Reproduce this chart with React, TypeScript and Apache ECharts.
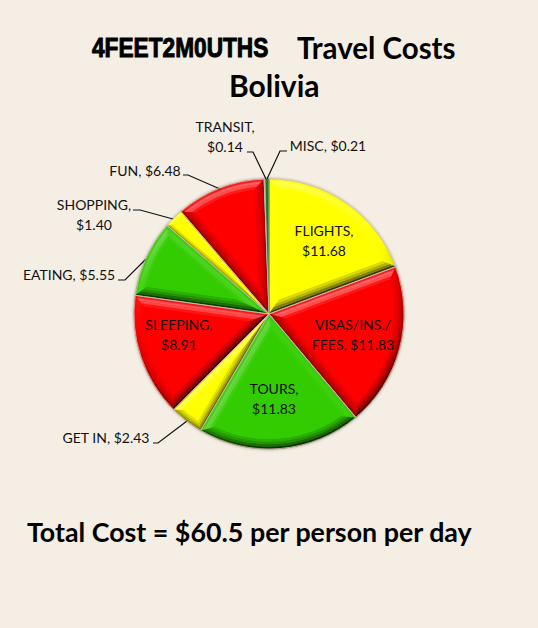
import React, { useEffect, useRef } from "react";
import * as echarts from "echarts";

const categories = ["FLIGHTS", "VISAS/INS./ FEES", "TOURS", "GET IN", "SLEEPING", "EATING", "SHOPPING", "FUN", "TRANSIT", "MISC"];
const costs = [11.68, 11.83, 11.83, 2.43, 8.91, 5.55, 1.4, 6.48, 0.14, 0.21];
const sliceColors = ["#ffff00", "#ff0000", "#33cc00", "#ffff00", "#ff0000", "#33cc00", "#ffff00", "#ff0000", "#a9a99a", "#1f7a1f"];
const labelTexts = [
  "FLIGHTS,\n$11.68",
  "VISAS/INS./\nFEES, $11.83",
  "TOURS,\n$11.83",
  "GET IN, $2.43",
  "SLEEPING,\n$8.91",
  "EATING, $5.55",
  "SHOPPING,\n$1.40",
  "FUN, $6.48",
  "TRANSIT,\n$0.14",
  "MISC, $0.21",
];
const titleMain = "Travel Costs";
const titleBrand = "4FEET2M0UTHS";
const titleSub = "Bolivia";
const footer = "Total Cost = $60.5 per person per day";

const CX = 269;
const CY = 314;
const R = 135;
const BEVEL = 10;
const SANS = "Lato, 'Open Sans', sans-serif";
const DARK_STEPS = [0.62, 0.4, 0.24, 0.12];
const LIGHT_STEPS = [0.08, 0.32, 0.26, 0.08];

const labelSpots: { x: number; y: number; line?: number[][] }[] = [
  { x: 324, y: 240 },
  { x: 353, y: 334 },
  { x: 274, y: 398 },
  { x: 106, y: 437, line: [[153, 443], [158, 443], [187, 421]] },
  { x: 179, y: 334 },
  { x: 69, y: 274, line: [[118, 280], [125, 280], [146, 259]] },
  { x: 94, y: 214, line: [[133, 210], [140, 210], [173, 219]] },
  { x: 145, y: 170, line: [[183, 175], [188, 175], [220, 189]] },
  { x: 225, y: 136, line: [[247, 152], [253, 152], [266, 179]] },
  { x: 328, y: 145, line: [[287, 151], [280, 151], [267, 179]] },
];

const total = costs.reduce((a, b) => a + b, 0);

function hex(c: string) {
  return [1, 3, 5].map((i) => parseInt(c.slice(i, i + 2), 16));
}
function shadeColor(base: string, s: number) {
  const target = s > 0 ? 255 : 0;
  const k = Math.min(1, Math.abs(s));
  const rgb = hex(base).map((v) => Math.round(v + (target - v) * k));
  return `rgb(${rgb[0]},${rgb[1]},${rgb[2]})`;
}
const LIGHT = [-0.3, -0.954];
function lit(nx: number, ny: number) {
  return nx * LIGHT[0] + ny * LIGHT[1];
}

function renderSlice(params: any) {
  const i = params.dataIndex;
  const start = (costs.slice(0, i).reduce((a, b) => a + b, 0) / total) * Math.PI * 2;
  const end = start + (costs[i] / total) * Math.PI * 2;
  const half = (end - start) / 2;
  const mid = start + half;
  const base = sliceColors[i];
  const maxInset = Math.min(BEVEL, 0.42 * R * Math.sin(half));
  const pt = (r: number, t: number) => [CX + r * Math.sin(t), CY - r * Math.cos(t)];

  const outline = (e: number) => {
    const rr = R - e;
    const da = Math.asin(Math.min(0.98, e / rr));
    const a = start + da;
    const b = end - da;
    return { apex: pt(e / Math.sin(half), mid), a, b, rr };
  };

  const children: any[] = [];
  const quad = (points: number[][], fill: string) =>
    children.push({
      type: "polygon",
      silent: true,
      shape: { points },
      style: { fill, stroke: fill, lineWidth: 0.4 },
    });

  const levels = DARK_STEPS.length;
  for (let j = 0; j < levels; j++) {
    const e0 = (maxInset * j) / levels;
    const e1 = (maxInset * (j + 1)) / levels;
    const o0 = outline(e0);
    const o1 = outline(e1);
    const tone = (s: number) => {
      const bias = s - 0.25;
      return shadeColor(base, bias > 0 ? bias * LIGHT_STEPS[j] * 1.6 : bias * DARK_STEPS[j]);
    };

    const steps = Math.max(2, Math.ceil((end - start) / 0.05));
    for (let k = 0; k < steps; k++) {
      const t0 = k / steps;
      const t1 = (k + 1) / steps;
      const p00 = o0.a + (o0.b - o0.a) * t0;
      const p01 = o0.a + (o0.b - o0.a) * t1;
      const p10 = o1.a + (o1.b - o1.a) * t0;
      const p11 = o1.a + (o1.b - o1.a) * t1;
      const tm = (p00 + p01) / 2;
      quad([pt(o0.rr, p00), pt(o0.rr, p01), pt(o1.rr, p11), pt(o1.rr, p10)], tone(lit(Math.sin(tm), -Math.cos(tm))));
    }
    const nl = start - Math.PI / 2;
    quad([o0.apex, pt(o0.rr, o0.a), pt(o1.rr, o1.a), o1.apex], tone(lit(Math.sin(nl), -Math.cos(nl))));
    const nr = end + Math.PI / 2;
    quad([o0.apex, pt(o0.rr, o0.b), pt(o1.rr, o1.b), o1.apex], tone(lit(Math.sin(nr), -Math.cos(nr))));
  }

  const inner = outline(maxInset);
  const face: number[][] = [inner.apex];
  const faceSteps = Math.max(2, Math.ceil((inner.b - inner.a) / 0.04));
  for (let k = 0; k <= faceSteps; k++) {
    face.push(pt(inner.rr, inner.a + ((inner.b - inner.a) * k) / faceSteps));
  }
  children.push({ type: "polygon", silent: true, shape: { points: face }, style: { fill: base } });
  return { type: "group", children };
}

const pieData = categories.map((name, i) => ({
  name,
  value: costs[i],
  itemStyle: { color: sliceColors[i] },
}));

export default function App() {
  const ref = useRef<HTMLDivElement>(null);
  useEffect(() => {
    const chart = echarts.init(ref.current!, undefined, { renderer: "svg" });
    chart.setOption({
      animation: false,
      backgroundColor: "#f4eee5",
      title: [
        {
          text: titleMain,
          left: 297,
          top: 32,
          padding: 0,
          textStyle: { fontFamily: SANS, fontWeight: "bold", fontSize: 29.5, color: "#000" },
        },
        {
          text: titleSub,
          left: 229,
          top: 70,
          padding: 0,
          textStyle: { fontFamily: SANS, fontWeight: "bold", fontSize: 30, color: "#000" },
        },
        {
          text: footer,
          left: 27,
          top: 518,
          padding: 0,
          textStyle: { fontFamily: SANS, fontWeight: "bold", fontSize: 26.8, color: "#000" },
        },
      ],
      graphic: [
        {
          type: "text",
          x: 92,
          y: 47,
          scaleX: 0.81,
          silent: true,
          style: {
            text: titleBrand,
            fontFamily: "'Liberation Sans', sans-serif",
            fontWeight: "bold",
            fontSize: 28,
            fill: "#000",
            stroke: "#000",
            lineWidth: 1,
            verticalAlign: "middle",
          },
        },
      ],
      series: [
        {
          type: "pie",
          z: 1,
          silent: true,
          center: [CX, CY],
          radius: [0, R],
          startAngle: 90,
          clockwise: true,
          label: { show: false },
          labelLine: { show: false },
          itemStyle: {
            borderColor: "#c9bcae",
            borderWidth: 1,
            shadowBlur: 3,
            shadowColor: "rgba(60,40,20,0.4)",
          },
          data: pieData,
        },
        {
          type: "custom",
          z: 2,
          silent: true,
          coordinateSystem: "none",
          renderItem: renderSlice,
          data: costs,
        },
        {
          type: "pie",
          z: 3,
          silent: true,
          center: [CX, CY],
          radius: [0, R],
          startAngle: 90,
          clockwise: true,
          avoidLabelOverlap: false,
          minShowLabelAngle: 0,
          itemStyle: { color: "transparent", borderColor: "#cbbfb0", borderWidth: 0.8 },
          label: {
            show: true,
            position: "outside",
            fontFamily: SANS,
            fontSize: 14,
            lineHeight: 20,
            color: "#111",
            formatter: (p: any) => labelTexts[p.dataIndex],
          },
          labelLine: { show: true, lineStyle: { color: "#111", width: 1.2 } },
          labelLayout: (p: any) => {
            const s = labelSpots[p.dataIndex];
            return {
              x: s.x,
              y: s.y,
              align: "center",
              verticalAlign: "middle",
              ...(s.line ? { labelLinePoints: s.line } : {}),
            };
          },
          data: categories.map((name, i) => ({
            name,
            value: costs[i],
            labelLine: { show: !!labelSpots[i].line },
            itemStyle: costs[i] < 0.5 ? { borderWidth: 0 } : undefined,
          })),
        },
      ],
    });
    return () => chart.dispose();
  }, []);
  return <div ref={ref} style={{ position: "absolute", left: 0, top: 0, width: 538, height: 628 }} />;
}
